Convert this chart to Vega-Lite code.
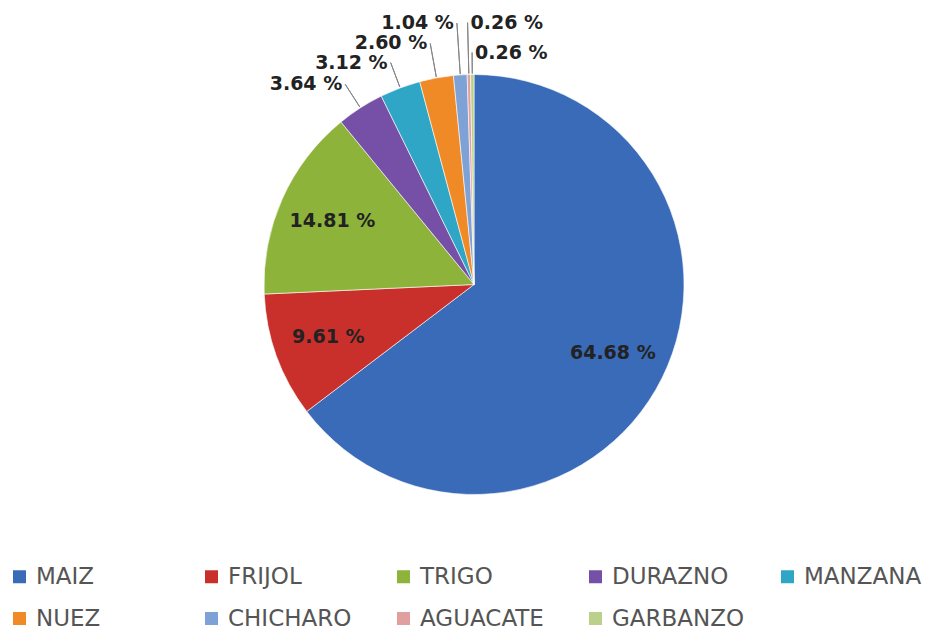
{
  "$schema": "https://vega.github.io/schema/vega-lite/v6.json",
  "width": 940,
  "height": 635,
  "autosize": {"type": "fit", "contains": "padding"},
  "padding": {"top": 6, "left": 8, "right": 0, "bottom": 4},
  "background": "white",
  "config": {"view": {"stroke": null}},
  "data": {
    "values": [
      {"crop": "MAIZ", "pct": 64.68},
      {"crop": "FRIJOL", "pct": 9.61},
      {"crop": "TRIGO", "pct": 14.81},
      {"crop": "DURAZNO", "pct": 3.64},
      {"crop": "MANZANA", "pct": 3.12},
      {"crop": "NUEZ", "pct": 2.60},
      {"crop": "CHICHARO", "pct": 1.04},
      {"crop": "AGUACATE", "pct": 0.26},
      {"crop": "GARBANZO", "pct": 0.26}
    ]
  },
  "transform": [{"window": [{"op": "row_number", "as": "rank"}]}],
  "encoding": {
    "theta": {"field": "pct", "type": "quantitative", "stack": true},
    "order": {"field": "rank", "type": "quantitative"}
  },
  "layer": [
    {
      "mark": {"type": "arc", "radius": 210, "stroke": "white", "strokeWidth": 0.6},
      "encoding": {
        "color": {
          "field": "crop",
          "type": "nominal",
          "sort": ["MAIZ", "FRIJOL", "TRIGO", "DURAZNO", "MANZANA", "NUEZ", "CHICHARO", "AGUACATE", "GARBANZO"],
          "scale": {
            "domain": ["MAIZ", "FRIJOL", "TRIGO", "DURAZNO", "MANZANA", "NUEZ", "CHICHARO", "AGUACATE", "GARBANZO"],
            "range": ["#3A6BB8", "#C9302C", "#8DB33A", "#7650A6", "#2FA6C6", "#F08A26", "#7FA2D6", "#E0A0A0", "#BBD08A"]
          },
          "legend": {
            "title": null,
            "orient": "bottom",
            "direction": "horizontal",
            "columns": 5,
            "gridAlign": "all",
            "columnPadding": 31,
            "rowPadding": 18,
            "padding": 0,
            "symbolType": "square",
            "symbolSize": 169,
            "symbolStrokeWidth": 0,
            "labelOffset": 5,
            "labelFont": "DejaVu Sans",
            "labelFontSize": 23,
            "labelColor": "#555555",
            "labelLimit": 300,
            "offset": 2
          }
        }
      }
    },
    {
      "mark": {
        "type": "arc",
        "radius2": 211,
        "radius": {"expr": "datum.crop == 'DURAZNO' ? 238 : datum.crop == 'MANZANA' ? 237 : datum.crop == 'NUEZ' ? 245 : datum.crop == 'CHICHARO' ? 262 : datum.crop == 'AGUACATE' ? 262 : datum.crop == 'GARBANZO' ? 232 : 211"},
        "padAngle": 0.6,
        "fill": "transparent",
        "stroke": "#858585",
        "strokeWidth": 1
      },
      "encoding": {
        "detail": {"field": "crop"},
        "strokeOpacity": {"condition": {"test": "datum.pct < 5", "value": 1}, "value": 0}
      }
    },
    {
      "mark": {
        "type": "text",
        "radius": {"expr": "datum.crop == 'DURAZNO' ? 238 : datum.crop == 'MANZANA' ? 237 : datum.crop == 'NUEZ' ? 245 : datum.crop == 'CHICHARO' ? 262 : datum.crop == 'AGUACATE' ? 262 : datum.crop == 'GARBANZO' ? 232 : 155"},
        "align": {"expr": "datum.pct >= 5 ? 'center' : (datum.crop == 'AGUACATE' || datum.crop == 'GARBANZO') ? 'left' : 'right'"},
        "dx": {"expr": "datum.pct >= 5 ? 0 : (datum.crop == 'AGUACATE' || datum.crop == 'GARBANZO') ? 3 : -3"},
        "baseline": "middle",
        "font": "DejaVu Sans",
        "fontWeight": "bold",
        "fontSize": 19,
        "color": "#222222",
        "text": {"expr": "format(datum.pct, '.2f') + ' %'"}
      },
      "encoding": {"detail": {"field": "crop"}}
    }
  ]
}
